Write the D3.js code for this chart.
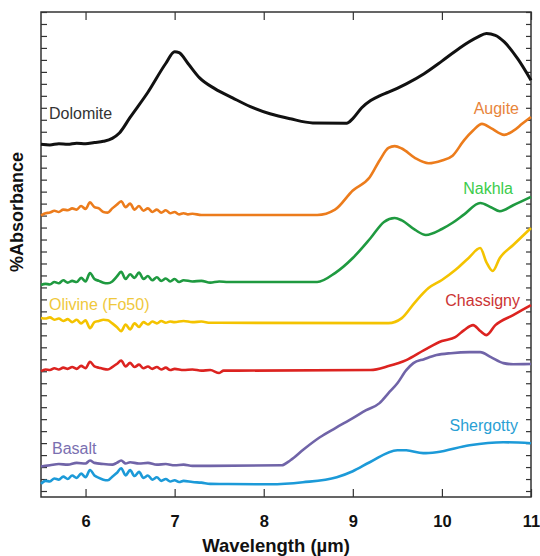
<!DOCTYPE html>
<html>
<head>
<meta charset="utf-8">
<script src="https://cdnjs.cloudflare.com/ajax/libs/d3/7.8.5/d3.min.js"></script>
<style>
  body { margin: 0; background: #fff; }
  text { font-family: "Liberation Sans", Arial, sans-serif; }
</style>
</head>
<body>
<script>
// IR absorbance spectra, curves stacked with offsets (arbitrary units)
// each series is [wavelength (um), absorbance + offset]

var dolomite = [[5.5,28.95],[5.6,28.9],[5.7,29.0],[5.8,28.95],[5.9,29.05],[6.0,29.0],[6.1,29.1],
  [6.2,29.2],[6.3,29.45],[6.38,29.9],[6.5,31.2],[6.7,33.3],[6.9,35.7],[7.0,36.68],[7.05,36.6],[7.15,35.7],
  [7.28,34.5],[7.45,33.6],[7.65,32.83],[7.85,32.1],[8.07,31.5],[8.3,31.08],[8.55,30.74],
  [8.93,30.72],[9.0,31.1],[9.1,32.0],[9.2,32.6],[9.3,33.0],[9.4,33.3],[9.6,34.0],[9.8,34.85],
  [10.0,35.9],[10.2,37.0],[10.4,37.9],[10.5,38.2],[10.6,38.05],[10.7,37.5],[10.85,36.1],[11.0,34.3]];

var augite = [[5.5,23.0],[5.55,23.2],[5.6,23.25],[5.65,23.4],[5.7,23.3],[5.75,23.5],[5.8,23.45],
  [5.85,23.6],[5.9,23.5],[5.95,23.8],[6.0,23.55],[6.05,24.1],[6.1,23.7],[6.15,23.6],[6.2,23.3],
  [6.25,23.25],[6.3,23.6],[6.35,23.9],[6.4,24.2],[6.45,23.7],[6.5,24.0],[6.55,23.5],[6.6,23.8],
  [6.65,23.4],[6.7,23.6],[6.75,23.3],[6.8,23.5],[6.85,23.25],[6.9,23.45],[6.95,23.2],[7.0,23.3],
  [7.05,23.1],[7.1,23.2],[7.15,23.1],[7.2,23.15],[7.3,23.05],[7.4,23.05],[8.6,23.05],[8.8,23.5],
  [9.0,25.1],[9.19,26.2],[9.3,27.6],[9.4,28.65],[9.47,28.8],[9.55,28.6],[9.7,27.8],[9.85,27.37],
  [10.0,27.6],[10.12,28.0],[10.25,29.3],[10.35,30.1],[10.45,30.66],[10.55,30.3],[10.7,29.74],
  [10.8,30.07],[10.9,30.66],[11.0,31.24]];

var nakhla = [[5.5,17.2],[5.55,17.3],[5.6,17.25],[5.65,17.45],[5.7,17.35],[5.75,17.6],[5.8,17.4],
  [5.85,17.55],[5.9,17.45],[5.95,17.8],[6.0,17.5],[6.05,18.2],[6.1,17.7],[6.15,17.55],[6.2,17.4],
  [6.25,17.35],[6.3,17.5],[6.35,17.9],[6.4,18.3],[6.45,17.7],[6.5,18.1],[6.55,17.8],[6.6,18.25],
  [6.65,17.7],[6.7,17.95],[6.75,17.6],[6.8,17.85],[6.85,17.55],[6.9,17.75],[6.95,17.5],[7.0,17.7],
  [7.05,17.45],[7.1,17.6],[7.2,17.5],[7.3,17.55],[7.4,17.4],[7.5,17.5],[7.6,17.45],[8.6,17.45],
  [8.8,18.2],[9.0,19.46],[9.2,21.13],[9.35,22.47],[9.47,22.8],[9.55,22.6],[9.7,21.8],[9.82,21.38],
  [10.0,21.88],[10.12,22.4],[10.25,23.1],[10.43,24.05],[10.55,23.7],[10.65,23.36],[10.8,23.86],
  [11.0,24.56]];

var olivine = [[5.5,14.45],[5.55,14.4],[5.6,14.5],[5.65,14.3],[5.7,14.4],[5.75,14.2],[5.8,14.35],
  [5.85,14.1],[5.9,14.3],[5.95,14.0],[6.0,14.25],[6.05,13.6],[6.1,14.1],[6.15,14.2],[6.2,14.3],
  [6.25,14.25],[6.3,14.0],[6.35,13.7],[6.4,13.35],[6.45,13.9],[6.5,13.5],[6.55,14.0],[6.6,13.7],
  [6.65,14.1],[6.7,13.9],[6.75,14.15],[6.8,14.0],[6.85,14.2],[6.9,14.05],[6.95,14.15],[7.0,14.1],
  [7.1,14.2],[7.2,14.1],[7.3,14.15],[7.4,14.05],[7.5,14.05],[9.4,14.02],[9.55,14.44],[9.7,15.78],
  [9.85,16.95],[10.0,17.62],[10.15,18.45],[10.3,19.46],[10.43,20.29],[10.5,19.1],[10.57,18.37],
  [10.65,19.46],[10.8,20.54],[11.0,21.96]];

var chassigny = [[5.5,10.0],[5.55,10.15],[5.6,10.1],[5.65,10.25],[5.7,10.15],[5.75,10.3],[5.8,10.2],
  [5.85,10.35],[5.9,10.2],[5.95,10.45],[6.0,10.25],[6.05,10.8],[6.1,10.4],[6.15,10.3],[6.2,10.2],
  [6.25,10.15],[6.3,10.35],[6.35,10.6],[6.4,10.9],[6.45,10.4],[6.5,10.7],[6.55,10.35],[6.6,10.55],
  [6.65,10.25],[6.7,10.4],[6.75,10.2],[6.8,10.35],[6.85,10.15],[6.9,10.3],[6.95,10.1],[7.0,10.2],
  [7.1,10.1],[7.2,10.15],[7.3,10.05],[7.4,10.1],[7.5,9.85],[7.55,10.05],[7.7,10.05],[9.2,10.1],
  [9.4,10.43],[9.6,10.93],[9.8,11.76],[10.0,12.52],[10.15,12.85],[10.25,13.44],[10.35,13.85],
  [10.43,13.36],[10.5,13.02],[10.6,13.85],[10.8,14.69],[11.0,15.53]];

var basalt = [[5.5,2.05],[5.6,2.15],[5.7,2.25],[5.8,2.2],[5.9,2.35],[6.0,2.3],[6.05,2.55],[6.1,2.35],
  [6.2,2.25],[6.3,2.2],[6.35,2.35],[6.4,2.55],[6.45,2.3],[6.5,2.4],[6.6,2.3],[6.7,2.35],[6.8,2.2],
  [6.9,2.25],[7.0,2.15],[7.1,2.2],[7.2,2.1],[7.4,2.1],[8.2,2.15],[8.3,2.57],[8.45,3.49],[8.63,4.49],
  [8.8,5.24],[9.0,6.08],[9.15,6.75],[9.3,7.34],[9.4,8.17],[9.5,9.0],[9.6,10.09],[9.68,10.68],
  [9.8,11.01],[9.94,11.35],[10.1,11.51],[10.31,11.6],[10.43,11.6],[10.55,11.18],[10.69,10.68],
  [10.8,10.59],[11.0,10.6]];

var shergotty = [[5.5,0.6],[5.55,0.85],[5.6,0.8],[5.65,1.05],[5.7,0.95],[5.75,1.2],[5.8,1.0],
  [5.85,1.3],[5.9,1.1],[5.95,1.45],[6.0,1.15],[6.05,1.75],[6.1,1.3],[6.15,1.1],[6.2,0.95],
  [6.25,0.9],[6.3,1.2],[6.35,1.5],[6.4,1.9],[6.45,1.3],[6.5,1.75],[6.55,1.25],[6.6,1.6],
  [6.65,1.1],[6.7,1.3],[6.75,0.95],[6.8,1.15],[6.85,0.85],[6.9,1.0],[6.95,0.8],[7.0,0.9],
  [7.05,0.75],[7.1,0.85],[7.2,0.75],[7.3,0.7],[7.4,0.6],[7.6,0.58],[8.07,0.56],[8.44,0.73],
  [8.82,1.15],[9.0,1.65],[9.19,2.4],[9.5,3.41],[9.6,3.4],[9.79,3.16],[9.94,3.24],[10.31,3.82],
  [10.69,4.07],[11.0,3.99]];

var xTicks = [6, 7, 8, 9, 10, 11];

var width = 540,
    height = 556,
    plotLeft = 41, plotRight = 531, plotTop = 12, plotBottom = 497;

var x = d3.scaleLinear().domain([5.5, 11]).range([plotLeft, plotRight]);
var y = d3.scaleLinear().domain([-0.5, 40]).range([plotBottom, plotTop]);

var svg = d3.select("body").append("svg")
    .attr("width", width)
    .attr("height", height);

// axes, all ticks point inward
var yTicks = d3.range(0, 41);
svg.append("g").attr("transform", "translate(0," + plotBottom + ")")
    .call(d3.axisBottom(x).tickValues(xTicks).tickSize(-8).tickPadding(18).tickFormat(d3.format("d")));
svg.append("g").attr("transform", "translate(0," + plotTop + ")")
    .call(d3.axisTop(x).tickValues(xTicks).tickSize(-8).tickFormat(""));
svg.append("g").attr("transform", "translate(" + plotLeft + ",0)")
    .call(d3.axisLeft(y).tickValues(yTicks).tickSize(-6).tickFormat(""));
svg.append("g").attr("transform", "translate(" + plotRight + ",0)")
    .call(d3.axisRight(y).tickValues(yTicks).tickSize(-5).tickFormat(""));

svg.selectAll(".domain").remove();
svg.selectAll(".tick line").attr("stroke", "#333").attr("stroke-width", 1.2);
svg.selectAll(".tick text")
    .attr("fill", "#111")
    .style("font-size", "16.5px")
    .style("font-weight", "bold");

svg.append("rect")
    .attr("x", plotLeft).attr("y", plotTop)
    .attr("width", plotRight - plotLeft).attr("height", plotBottom - plotTop)
    .attr("fill", "none")
    .attr("stroke", "#333")
    .attr("stroke-width", 1.5);

// spectra
var line = d3.line()
    .curve(d3.curveMonotoneX)
    .x(function(d) { return x(d[0]); })
    .y(function(d) { return y(d[1]); });

var series = [
    { name: "Dolomite", data: dolomite, color: "#111111", w: 3 },
    { name: "Augite", data: augite, color: "#ec7c1c", w: 2.6 },
    { name: "Nakhla", data: nakhla, color: "#1f9a40", w: 2.6 },
    { name: "Olivine (Fo50)", data: olivine, color: "#f4c300", w: 2.6 },
    { name: "Chassigny", data: chassigny, color: "#dc2320", w: 2.6 },
    { name: "Basalt", data: basalt, color: "#7064a8", w: 2.6 },
    { name: "Shergotty", data: shergotty, color: "#1c9ad8", w: 2.6 }
];

svg.append("g").selectAll("path")
    .data(series)
    .enter().append("path")
    .attr("d", function(d) { return line(d.data); })
    .attr("fill", "none")
    .attr("stroke", function(d) { return d.color; })
    .attr("stroke-width", function(d) { return d.w; })
    .attr("stroke-linejoin", "round");

// curve labels
var labels = [
    { text: "Dolomite", x: 49, y: 119, anchor: "start", color: "#333333" },
    { text: "Augite", x: 519, y: 114, anchor: "end", color: "#e8843a" },
    { text: "Nakhla", x: 513, y: 194, anchor: "end", color: "#3ccc4c" },
    { text: "Olivine (Fo50)", x: 49, y: 310, anchor: "start", color: "#efc83c" },
    { text: "Chassigny", x: 520, y: 306, anchor: "end", color: "#cc3434" },
    { text: "Basalt", x: 52, y: 454, anchor: "start", color: "#7a6fb0" },
    { text: "Shergotty", x: 518, y: 431, anchor: "end", color: "#2aa0d4" }
];

svg.append("g").selectAll("text")
    .data(labels)
    .enter().append("text")
    .attr("x", function(d) { return d.x; })
    .attr("y", function(d) { return d.y; })
    .attr("text-anchor", function(d) { return d.anchor; })
    .attr("fill", function(d) { return d.color; })
    .style("font-size", "16px")
    .text(function(d) { return d.text; });

// axis titles
svg.append("text")
    .attr("x", 276)
    .attr("y", 552)
    .attr("text-anchor", "middle")
    .attr("fill", "#111")
    .style("font-size", "18.5px")
    .style("font-weight", "bold")
    .text("Wavelength (\u00b5m)");

svg.append("text")
    .attr("transform", "translate(23,212) rotate(-90)")
    .attr("text-anchor", "middle")
    .attr("fill", "#111")
    .style("font-size", "18px")
    .style("font-weight", "bold")
    .text("%Absorbance");
</script>
</body>
</html>
